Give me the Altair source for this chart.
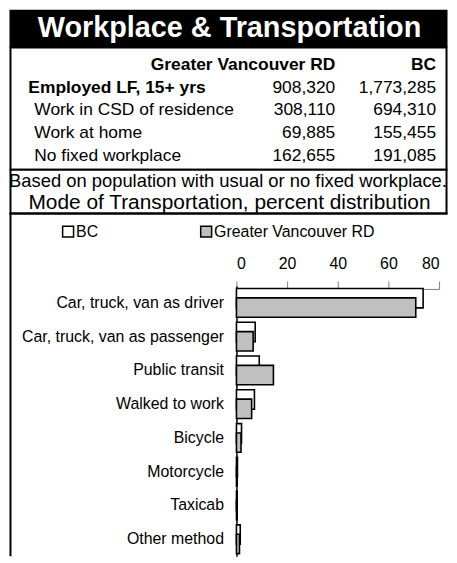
import altair as alt
import pandas as pd

FONT = "Liberation Sans"

title_text = "Workplace & Transportation"
col_headers = ["Greater Vancouver RD", "BC"]
row_labels = ["Employed LF, 15+ yrs", "Work in CSD of residence", "Work at home", "No fixed workplace"]
gvrd_counts = [908320, 308110, 69885, 162655]
bc_counts = [1773285, 694310, 155455, 191085]
note_text = "Based on population with usual or no fixed workplace."
subtitle_text = "Mode of Transportation, percent distribution"

modes = ["Car, truck, van as driver", "Car, truck, van as passenger", "Public transit",
         "Walked to work", "Bicycle", "Motorcycle", "Taxicab", "Other method"]
bc_pct = [73.7, 7.4, 9.0, 7.1, 2.0, 0.4, 0.3, 1.5]
gvrd_pct = [70.8, 6.6, 14.6, 6.0, 1.8, 0.3, 0.3, 1.2]
series = ["BC", "Greater Vancouver RD"]

# plot area (bar chart) sizes; everything else is laid out relative to its origin
PW, PH = 204, 272
LEFT, RIGHT = -228.5, 212.5     # outer frame, relative to plot origin
TOP = -278
one = pd.DataFrame({"a": [0]})

# ---- Title band ----
title_bg = alt.Chart(one).mark_rect(color="black").encode(
    x=alt.value(LEFT), x2=alt.value(RIGHT), y=alt.value(TOP), y2=alt.value(-240))
title_df = pd.DataFrame({"t": [title_text]})
title_tx = alt.Chart(title_df).mark_text(
    font=FONT, fontSize=29, fontWeight="bold", color="white", align="center", baseline="middle"
).encode(text="t:N", x=alt.value(-7), y=alt.value(-260))

# ---- Frames ----
box_tbl = alt.Chart(one).mark_rect(fill="white", stroke="black", strokeWidth=2).encode(
    x=alt.value(LEFT + 1), x2=alt.value(RIGHT - 1), y=alt.value(-240), y2=alt.value(-117))
box_note = alt.Chart(one).mark_rect(fill="white", stroke="black", strokeWidth=2).encode(
    x=alt.value(LEFT + 1), x2=alt.value(RIGHT - 1), y=alt.value(-117), y2=alt.value(-73))
border_v = alt.Chart(one).mark_rule(color="black", strokeWidth=2).encode(
    x=alt.value(LEFT + 1), y=alt.value(-73), y2=alt.value(PH))
border_h = alt.Chart(one).mark_rule(color="black", strokeWidth=2).encode(
    x=alt.value(LEFT), x2=alt.value(RIGHT), y=alt.value(-73))

# ---- Table ----
yrow = alt.Y("row:Q", scale=alt.Scale(domain=[0, 4], range=[-217.7, -126.0], nice=False, zero=False), axis=None)
tbl = pd.DataFrame({"row": [1, 2, 3, 4], "label": row_labels, "gvrd": gvrd_counts, "bc": bc_counts})
hdr = pd.DataFrame({"row": [0], "g": [col_headers[0]], "b": [col_headers[1]]})
txt = dict(font=FONT, fontSize=17.5, baseline="alphabetic", color="black")
XG, XB = 99.5, 201.0

hdr_g = alt.Chart(hdr).mark_text(align="right", fontWeight="bold", **txt).encode(x=alt.value(XG), y=yrow, text="g:N")
hdr_b = alt.Chart(hdr).mark_text(align="right", fontWeight="bold", **txt).encode(x=alt.value(XB), y=yrow, text="b:N")
base = alt.Chart(tbl)
lab_bold = base.transform_filter("datum.row == 1").mark_text(align="left", fontWeight="bold", **txt).encode(
    x=alt.value(-209.5), y=yrow, text="label:N")
lab_norm = base.transform_filter("datum.row > 1").mark_text(align="left", **txt).encode(
    x=alt.value(-203.5), y=yrow, text="label:N")
val_g = base.mark_text(align="right", **txt).encode(x=alt.value(XG), y=yrow, text=alt.Text("gvrd:Q", format=","))
val_b = base.mark_text(align="right", **txt).encode(x=alt.value(XB), y=yrow, text=alt.Text("bc:Q", format=","))
table = alt.layer(hdr_g, hdr_b, lab_bold, lab_norm, val_g, val_b)

# ---- Notes ----
note_df = pd.DataFrame({"n": [note_text], "s": [subtitle_text]})
note1 = alt.Chart(note_df).mark_text(font=FONT, fontSize=18.5, align="center", baseline="alphabetic",
                                     color="black").encode(text="n:N", x=alt.value(-8.5), y=alt.value(-100))
note2 = alt.Chart(note_df).mark_text(font=FONT, fontSize=21, align="center", baseline="alphabetic",
                                     color="black").encode(text="s:N", x=alt.value(-7), y=alt.value(-78))

# ---- Bar chart ----
bars = pd.DataFrame({
    "mode": modes * 2,
    "series": [series[0]] * len(modes) + [series[1]] * len(modes),
    "pct": bc_pct + gvrd_pct,
})
fill = alt.Fill("series:N", scale=alt.Scale(domain=series, range=["white", "#c0c0c0"]),
                legend=alt.Legend(orient="none", legendX=-177.5, legendY=-63, direction="horizontal",
                                  title=None, symbolType="square", symbolSize=121, symbolStrokeColor="black",
                                  symbolStrokeWidth=1.5, labelFontSize=16, labelFont=FONT, labelColor="black",
                                  labelOffset=0, columnPadding=99, padding=0, labelLimit=400))
xenc = alt.X("pct:Q", scale=alt.Scale(domain=[0, 80], nice=False),
             axis=alt.Axis(orient="top", values=[0, 20, 40, 60, 80], title=None, grid=False, tickSize=8,
                           labelFontSize=16, labelFont=FONT, labelPadding=10, offset=-3,
                           domainColor="#808080", tickColor="#808080", labelColor="black"))
yenc = alt.Y("mode:N", sort=modes, scale=alt.Scale(paddingInner=0, paddingOuter=0),
             axis=alt.Axis(title=None, ticks=False, labelFontSize=16, labelFont=FONT, labelPadding=13,
                           domainColor="black", domainWidth=1.5, labelLimit=300, labelColor="black"))

bc_layer = alt.Chart(bars).transform_filter(f"datum.series == '{series[0]}'").mark_bar(
    height=19.5, yOffset=-4.7, stroke="black", strokeWidth=1.6).encode(x=xenc, y=yenc, fill=fill)
gv_layer = alt.Chart(bars).transform_filter(f"datum.series == '{series[1]}'").mark_bar(
    height=19.5, yOffset=4.7, stroke="black", strokeWidth=1.6).encode(x=xenc, y=yenc, fill=fill)
bar_chart = alt.layer(bc_layer, gv_layer)

chart = alt.layer(
    title_bg, box_tbl, box_note, border_v, border_h, title_tx,
    table, note1, note2, bar_chart,
).resolve_scale(y="independent").properties(width=PW, height=PH, padding=0).configure(
    font=FONT).configure_view(strokeWidth=0)

chart.save("out.html", embed_options={"renderer": "svg", "actions": False})
